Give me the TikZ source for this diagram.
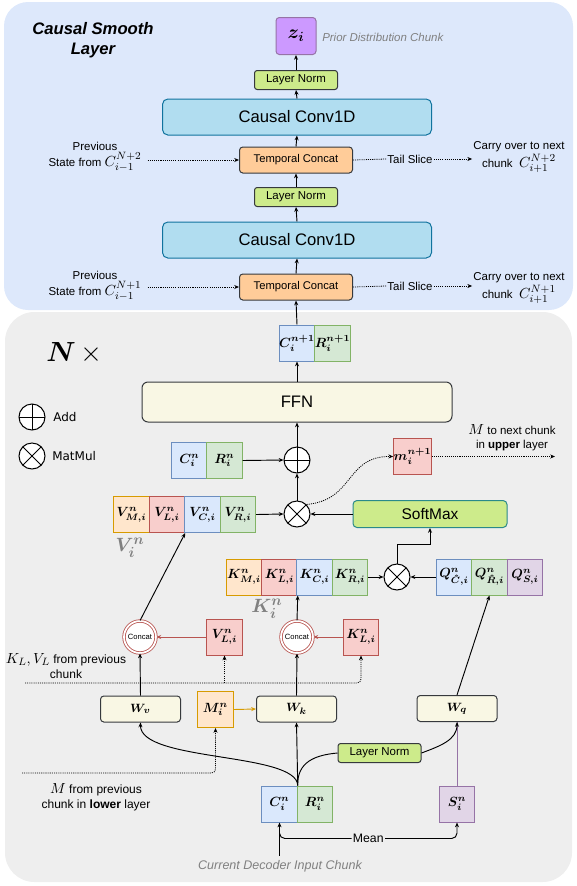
\documentclass[tikz,border=0pt]{standalone}
\usepackage[no-math]{fontspec}
\setmainfont{Liberation Sans}
\newfontfamily\keyfont{DejaVu Sans}
\usepackage{amsmath}
\usepackage{amssymb}
\usepackage{bm}
\usetikzlibrary{arrows.meta,calc}

\definecolor{panelblue}{HTML}{DDE8FB}
\definecolor{panelgray}{HTML}{EEEEEE}
\definecolor{cfill}{HTML}{DAE8FC}
\definecolor{cdraw}{HTML}{6C8EBF}
\definecolor{rfill}{HTML}{D5E8D4}
\definecolor{rdraw}{HTML}{82B366}
\definecolor{lfill}{HTML}{F8CECC}
\definecolor{ldraw}{HTML}{B85450}
\definecolor{mfill}{HTML}{FFE6CC}
\definecolor{mdraw}{HTML}{D79B00}
\definecolor{sfill}{HTML}{E1D5E7}
\definecolor{sdraw}{HTML}{9673A6}
\definecolor{zfill}{HTML}{CC99FF}
\definecolor{normfill}{HTML}{CDEB8B}
\definecolor{convfill}{HTML}{B1DDF0}
\definecolor{convdraw}{HTML}{10739E}
\definecolor{catfill}{HTML}{FFCC99}
\definecolor{ffnfill}{HTML}{F9F7E4}
\definecolor{darkline}{HTML}{36393D}
\definecolor{softdraw}{HTML}{2A8A8A}
\definecolor{labelgray}{HTML}{808080}

\tikzset{
  arr/.style={-{Stealth[length=3.6pt,width=3pt]}, line width=0.7pt},
  dotarr/.style={arr, dash pattern=on 0.8pt off 0.8pt, line width=0.6pt},
  dotline/.style={dash pattern=on 0.8pt off 0.8pt, line width=0.6pt},
  txt/.style={inner sep=0pt, align=center, font=\fontsize{8.6}{10.5}\selectfont},
  cell/.style={draw, line width=0.75pt, inner sep=0pt, minimum width=26.6pt, minimum height=27pt, font=\fontsize{9.8}{11}\selectfont},
  cellC/.style={cell, fill=cfill, draw=cdraw},
  cellR/.style={cell, fill=rfill, draw=rdraw},
  cellL/.style={cell, fill=lfill, draw=ldraw},
  cellM/.style={cell, fill=mfill, draw=mdraw},
  cellS/.style={cell, fill=sfill, draw=sdraw},
  zbox/.style={draw=sdraw, fill=zfill, rounded corners=2.5pt, line width=0.75pt, minimum width=30pt, minimum height=27.75pt, inner sep=0pt, font=\fontsize{14}{16}\selectfont},
  norm/.style={draw=darkline, fill=normfill, rounded corners=2pt, line width=0.75pt, minimum width=62.25pt, minimum height=14.25pt, inner sep=0pt, font=\fontsize{8.6}{10}\selectfont},
  conv/.style={draw=convdraw, fill=convfill, rounded corners=4pt, line width=0.75pt, minimum width=201.75pt, minimum height=27pt, inner sep=0pt, font=\fontsize{12.5}{14}\selectfont},
  tcat/.style={draw=darkline, fill=catfill, rounded corners=2.5pt, line width=0.75pt, minimum width=84.75pt, minimum height=19.5pt, inner sep=0pt, font=\fontsize{8.4}{10}\selectfont},
  ffn/.style={draw=darkline, fill=ffnfill, rounded corners=4.5pt, line width=0.75pt, minimum width=232.5pt, minimum height=30pt, inner sep=0pt, font=\fontsize{12.5}{14}\selectfont},
  softmax/.style={draw=softdraw, fill=normfill, rounded corners=3pt, line width=0.75pt, minimum width=115.5pt, minimum height=20.25pt, inner sep=0pt, font=\fontsize{11.6}{13}\selectfont},
  wbox/.style={draw=darkline, fill=ffnfill, rounded corners=2.5pt, line width=0.75pt, minimum width=60pt, minimum height=19.5pt, inner sep=0pt, font=\fontsize{9.5}{11}\selectfont},
  opadd/.style={circle, draw, fill=white, line width=0.75pt, minimum size=19.5pt, inner sep=0pt,
    path picture={\draw[line width=0.75pt] (path picture bounding box.north) -- (path picture bounding box.south)
      (path picture bounding box.west) -- (path picture bounding box.east);}},
  opmul/.style={circle, draw, fill=white, line width=0.75pt, minimum size=19.5pt, inner sep=0pt,
    path picture={\draw[line width=0.75pt] (path picture bounding box.north west) -- (path picture bounding box.south east)
      (path picture bounding box.south west) -- (path picture bounding box.north east);}},
  catnode/.style={circle, draw=ldraw, double=white, double distance=1.3pt, line width=0.6pt, fill=white, minimum size=24pt, inner sep=0pt, font=\fontsize{5.7}{6}\selectfont},
  biglabel/.style={inner sep=0pt, text=labelgray, font=\fontsize{15}{17}\selectfont}
}

\begin{document}
\begin{tikzpicture}[x=0.75pt,y=-0.75pt]
\useasboundingbox (0,0) rectangle (576,886);

\fill[panelblue, rounded corners=18pt] (4,2) rectangle (573,310);
\fill[panelgray, rounded corners=22pt] (5,312) rectangle (572,882);

\node[inner sep=0pt, align=center, font=\fontsize{12.5}{15}\selectfont\bfseries\itshape] (title) at (93,40) {Causal Smooth\\Layer};

\node[zbox] (z_i) at (296,36) {$\bm{z_i}$};
\node[anchor=west, inner sep=0pt, text=labelgray, font=\fontsize{8.6}{10}\selectfont\itshape] (prior_text) at (322,37) {Prior Distribution Chunk};
\node[norm] (norm_2) at (296,80) {Layer Norm};
\node[conv] (conv_1) at (297,117) {Causal Conv1D};
\node[tcat] (tcat_1) at (296,160) {Temporal Concat};
\node[norm] (norm_1) at (296,197) {Layer Norm};
\node[conv] (conv_0) at (297,240) {Causal Conv1D};
\node[tcat] (tcat_0) at (296,287) {Temporal Concat};

\node[txt] (prev_1) at (95,157) {Previous\\[1pt]State from {\fontsize{11}{12}\selectfont$C_{i-1}^{N+2}$}};
\node[txt] (prev_0) at (95,286) {Previous\\[1pt]State from {\fontsize{11}{12}\selectfont$C_{i-1}^{N+1}$}};
\node[txt] (tail_1) at (410,159) {Tail Slice};
\node[txt] (tail_0) at (410,286) {Tail Slice};
\node[txt] (carry_1) at (519,157) {Carry over to next\\[1pt]chunk\ \ {\fontsize{11}{12}\selectfont$C_{i+1}^{N+2}$}};
\node[txt] (carry_0) at (519,288) {Carry over to next\\[1pt]chunk\ \ {\fontsize{11}{12}\selectfont$C_{i+1}^{N+1}$}};

\draw[arr] (norm_2.north) -- (z_i.south);
\draw[arr] (conv_1.north) -- (norm_2.south);
\draw[arr] (tcat_1.north) -- (conv_1.south);
\draw[arr] (norm_1.north) -- (tcat_1.south);
\draw[arr] (conv_0.north) -- (norm_1.south);
\draw[arr] (tcat_0.north) -- (conv_0.south);

\draw[dotarr] ($(prev_1.east |- tcat_1.west)+(6,0)$) -- (tcat_1.west);
\draw[dotarr] ($(prev_0.east |- tcat_0.west)+(6,0)$) -- (tcat_0.west);
\draw[dotline] (tcat_1.east) -- ($(tail_1.west)+(-1,0)$);
\draw[dotline] (tcat_0.east) -- ($(tail_0.west)+(-1,0)$);
\draw[dotarr] ($(tail_1.east)+(1,0)$) -- ($(carry_1.west |- tail_1.east)+(-1,0)$);
\draw[dotarr] ($(tail_0.east)+(1,0)$) -- ($(carry_0.west |- tail_0.east)+(-1,0)$);

\node[anchor=west, inner sep=0pt, font=\fontsize{22}{26}\selectfont] (n_times) at (46,353) {$\bm{N}\,\times$};
\node[opadd] (add_key) at (32,417) {};
\node[anchor=west, inner sep=0pt, font=\keyfont\fontsize{9}{10}\selectfont] (add_text) at (53,417) {Add};
\node[opmul] (mul_key) at (32,456) {};
\node[anchor=west, inner sep=0pt, font=\keyfont\fontsize{9}{10}\selectfont] (mul_text) at (52,456) {MatMul};

\node[cellC] (c_next) at (297,343) {$\bm{C_i^{n+1}}$};
\node[cellR] (r_next) at (332.5,343) {$\bm{R_i^{n+1}}$};
\node[ffn] (ffn) at (297,402) {FFN};
\node[opadd] (add_op) at (297,460) {};
\node[cellC] (c_res) at (189.5,460.5) {$\bm{C_i^n}$};
\node[cellR] (r_res) at (224.5,460.5) {$\bm{R_i^n}$};
\node[cellL] (m_out) at (412.5,456.5) {$\bm{m_i^{n+1}}$};
\coordinate (m_next) at (555,456.5);
\node[txt] (m_next_text) at (512,438) {{\fontsize{10.5}{12}\selectfont$M$} to next chunk\\in \textbf{upper} layer};

\node[opmul] (matmul_v) at (297,514) {};
\node[cellM] (v_m) at (131.5,514.5) {$\bm{V_{M,i}^n}$};
\node[cellL] (v_l) at (167,514.5) {$\bm{V_{L,i}^n}$};
\node[cellC] (v_c) at (202.5,514.5) {$\bm{V_{C,i}^n}$};
\node[cellR] (v_r) at (238,514.5) {$\bm{V_{R,i}^n}$};
\node[biglabel] (v_label) at (130,548) {$\bm{V_i^n}$};
\node[softmax] (softmax) at (430,514) {SoftMax};

\node[cellM] (k_m) at (244,577) {$\bm{K_{M,i}^n}$};
\node[cellL] (k_l) at (279.5,577) {$\bm{K_{L,i}^n}$};
\node[cellC] (k_c) at (314.5,577) {$\bm{K_{C,i}^n}$};
\node[cellR] (k_r) at (350,577) {$\bm{K_{R,i}^n}$};
\node[biglabel] (k_label) at (267,609) {$\bm{K_i^n}$};
\node[opmul] (matmul_k) at (397,577) {};
\node[cellC] (q_c) at (454,577) {$\bm{Q_{\hat{C},i}^n}$};
\node[cellR] (q_r) at (489.5,577) {$\bm{Q_{\hat{R},i}^n}$};
\node[cellS] (q_s) at (525,577) {$\bm{Q_{S,i}^n}$};

\node[catnode] (concat_v) at (140,637) {Concat};
\node[cellL] (vl_prev) at (224.5,637) {$\bm{V_{L,i}^n}$};
\node[catnode] (concat_k) at (297,637) {Concat};
\node[cellL] (kl_prev) at (361,637) {$\bm{K_{L,i}^n}$};
\node[txt, font=\fontsize{9}{11}\selectfont] (kv_text) at (66,666) {{\fontsize{11}{12}\selectfont$K_L, V_L$} from previous\\chunk};
\coordinate (kv_start) at (25,683);

\node[wbox] (w_v) at (140.5,709) {$\bm{W_v}$};
\node[cellM] (m_in) at (215.5,709.5) {$\bm{M_i^n}$};
\node[wbox] (w_k) at (296.5,709) {$\bm{W_k}$};
\node[wbox] (w_q) at (457,708.5) {$\bm{W_q}$};
\node[norm] (norm_in) at (379.5,753) {Layer Norm};
\node[txt, font=\fontsize{9}{11}\selectfont] (m_prev_text) at (96,797) {{\fontsize{10.5}{12}\selectfont$M$} from previous\\chunk in \textbf{lower} layer};
\coordinate (m_prev_start) at (22,773);

\node[cellC] (c_in) at (279.5,804) {$\bm{C_i^n}$};
\node[cellR] (r_in) at (315,804) {$\bm{R_i^n}$};
\node[cellS] (s_in) at (457,804) {$\bm{S_i^n}$};
\node[inner sep=0pt, text=labelgray, font=\fontsize{9.4}{11}\selectfont\itshape] (input_text) at (280,866) {Current Decoder Input Chunk};

\draw[arr] (c_next.north) -- (tcat_0.south);
\draw[arr] (ffn.north) -- (c_next.south);
\draw[arr] (add_op.north) -- (ffn.south);
\draw[arr] (r_res.east) -- (add_op.west);
\draw[arr] (matmul_v.north) -- (add_op.south);
\draw[arr] (v_r.east) -- (matmul_v.west);
\draw[arr] (softmax.west) -- (matmul_v.east);
\draw[dotarr] (matmul_v.north east) .. controls (355,500) and (345,456) .. (m_out.west);
\draw[dotarr] (m_out.east) -- (m_next);

\draw[arr] (matmul_k.north) -- ++(0,-19) -| (softmax.south);
\draw[arr] (k_r.east) -- (matmul_k.west);
\draw[arr] (q_c.west) -- (matmul_k.east);

\draw[arr] (concat_v.north) -- (v_l.south east);
\draw[arr, draw=ldraw] (vl_prev.west) -- (concat_v.east);
\draw[arr] (concat_k.north) -- (k_l.south east);
\draw[arr, draw=ldraw] (kl_prev.west) -- (concat_k.east);
\draw[dotarr, rounded corners=3pt] (kv_start) -| (kl_prev.south);
\draw[dotarr] (vl_prev.south |- kv_start) -- (vl_prev.south);

\draw[arr] (w_v.north) -- (concat_v.south);
\draw[arr] (w_k.north) -- (concat_k.south);
\draw[arr] (w_q.north) -- (q_r.south);
\draw[arr, draw=mdraw] (m_in.east) -- (w_k.west);
\draw[dotarr, rounded corners=3pt] (m_prev_start) -| (m_in.south);

\draw[arr] (c_in.north east) -- (w_k.south);
\draw[arr] (c_in.north east) .. controls (297,752) and (140,762) .. (w_v.south);
\draw[line width=0.7pt] (c_in.north east) .. controls (297,762) and (315,755) .. (norm_in.west);
\draw[line width=0.7pt, draw=sdraw] (s_in.north) -- (w_q.south);
\draw[arr] (norm_in.east) .. controls (440,746) and (457,740) .. (w_q.south);

\draw[arr] ($(c_in.south |- input_text.north)+(0,-4)$) -- (c_in.south);
\draw[arr, rounded corners=4pt] ($(c_in.south)+(0,8)$) |- node[pos=0.75, fill=panelgray, inner sep=1pt, font=\fontsize{9.2}{11}\selectfont] (mean_text) {Mean} ($(s_in.south)+(0,16)$) -- (s_in.south);
\end{tikzpicture}
\end{document}
